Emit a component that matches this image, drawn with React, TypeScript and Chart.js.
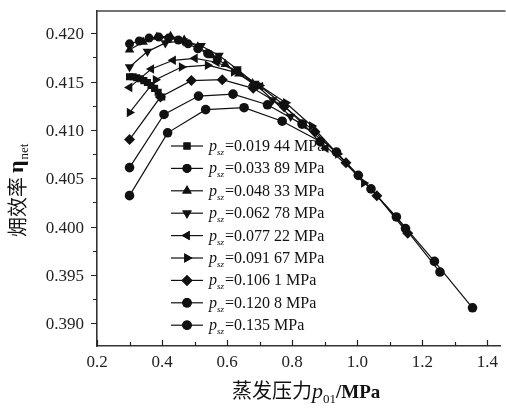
import React, { useEffect, useRef } from 'react';
import { Chart, registerables } from 'chart.js';
import { drawPoint } from 'chart.js/helpers';

Chart.register(...registerables);

// ---- data ----
const seriesLabels = ['0.019 44', '0.033 89', '0.048 33', '0.062 78', '0.077 22', '0.091 67', '0.106 1', '0.120 8', '0.135'];

const xS1 = [0.300, 0.311, 0.322, 0.333, 0.344, 0.355, 0.366, 0.377, 0.388, 0.399];
const yS1 = [0.4155, 0.4155, 0.4154, 0.4153, 0.4151, 0.4149, 0.4146, 0.4143, 0.4139, 0.4134];

const xS2 = [0.300, 0.330, 0.360, 0.390, 0.420, 0.450, 0.480, 0.510, 0.540, 0.570];
const yS2 = [0.4189, 0.4192, 0.4195, 0.4196, 0.4195, 0.4193, 0.4189, 0.4184, 0.4179, 0.4173];

const xS3 = [0.300, 0.342, 0.384, 0.426, 0.468, 0.510, 0.552, 0.594, 0.636, 0.678];
const yS3 = [0.4183, 0.4191, 0.4196, 0.4197, 0.4193, 0.4186, 0.4177, 0.4168, 0.4158, 0.4148];

const xS4 = [0.300, 0.355, 0.410, 0.465, 0.520, 0.575, 0.630, 0.685, 0.740, 0.795];
const yS4 = [0.4165, 0.4181, 0.4190, 0.4192, 0.4187, 0.4177, 0.4163, 0.4148, 0.4131, 0.4114];

const xS5 = [0.300, 0.367, 0.434, 0.501, 0.568, 0.635, 0.702, 0.769, 0.836, 0.903];
const yS5 = [0.4144, 0.4163, 0.4172, 0.4174, 0.4170, 0.4160, 0.4145, 0.4127, 0.4105, 0.4081];

const xS6 = [0.300, 0.380, 0.460, 0.540, 0.620, 0.700, 0.780, 0.860, 0.940, 1.020];
const yS6 = [0.4118, 0.4152, 0.4165, 0.4167, 0.4160, 0.4146, 0.4128, 0.4104, 0.4075, 0.4045];

const xS7 = [0.300, 0.395, 0.490, 0.585, 0.680, 0.775, 0.870, 0.965, 1.060, 1.155];
const yS7 = [0.4090, 0.4134, 0.4151, 0.4152, 0.4143, 0.4124, 0.4098, 0.4066, 0.4032, 0.3993];

const xS8 = [0.300, 0.406, 0.512, 0.618, 0.724, 0.830, 0.936, 1.042, 1.148, 1.254];
const yS8 = [0.4061, 0.4116, 0.4135, 0.4137, 0.4126, 0.4106, 0.4077, 0.4039, 0.3998, 0.3953];

const xS9 = [0.300, 0.417, 0.534, 0.652, 0.769, 0.886, 1.003, 1.120, 1.237, 1.354];
const yS9 = [0.4032, 0.4097, 0.4121, 0.4123, 0.4109, 0.4088, 0.4053, 0.4010, 0.3964, 0.3916];

const xTickValues = [0.2, 0.4, 0.6, 0.8, 1.0, 1.2, 1.4];
const yTickValues = [0.390, 0.395, 0.400, 0.405, 0.410, 0.415, 0.420];
const xTickLabels = ['0.2', '0.4', '0.6', '0.8', '1.0', '1.2', '1.4'];
const yTickLabels = ['0.390', '0.395', '0.400', '0.405', '0.410', '0.415', '0.420'];
const xMinorValues = [0.3, 0.5, 0.7, 0.9, 1.1, 1.3];
const yMinorValues = [0.3925, 0.3975, 0.4025, 0.4075, 0.4125, 0.4175];

const xTitleCjk = '蒸发压力';
const yTitleCjk = '㶲效率';

// ---- styles ----
const INK = '#111';
const SERIF = "'Liberation Serif', 'Times New Roman', serif";
const CJK = "'Noto Sans CJK SC', sans-serif";

const markerStyles: { style: any; radius: number; rotation: number }[] = [
  { style: 'rect', radius: 5, rotation: 0 },
  { style: 'circle', radius: 4.5, rotation: 0 },
  { style: 'triangle', radius: 5.5, rotation: 0 },
  { style: 'triangle', radius: 5.5, rotation: 180 },
  { style: 'triangle', radius: 5.5, rotation: 270 },
  { style: 'triangle', radius: 5.5, rotation: 90 },
  { style: 'rectRot', radius: 5.5, rotation: 0 },
  { style: 'circle', radius: 4.8, rotation: 0 },
  { style: 'circle', radius: 4.8, rotation: 0 },
];

const allX = [xS1, xS2, xS3, xS4, xS5, xS6, xS7, xS8, xS9];
const allY = [yS1, yS2, yS3, yS4, yS5, yS6, yS7, yS8, yS9];

const overlayPlugin = {
  id: 'overlay',
  afterDraw(chart: any) {
    const ctx: CanvasRenderingContext2D = chart.ctx;
    const { left, right, top, bottom } = chart.chartArea;
    const xs = chart.scales.x;
    const ys = chart.scales.y;
    ctx.save();
    // top frame line
    ctx.strokeStyle = '#444';
    ctx.lineWidth = 1.5;
    ctx.beginPath();
    ctx.moveTo(left, top);
    ctx.lineTo(right + 5, top);
    ctx.stroke();
    // ticks
    ctx.strokeStyle = '#222';
    ctx.lineWidth = 1.2;
    ctx.beginPath();
    yTickValues.forEach((v) => {
      const p = Math.round(ys.getPixelForValue(v)) + 0.5;
      ctx.moveTo(left - 6, p);
      ctx.lineTo(left, p);
    });
    yMinorValues.forEach((v) => {
      const p = Math.round(ys.getPixelForValue(v)) + 0.5;
      ctx.moveTo(left - 4, p);
      ctx.lineTo(left, p);
    });
    xTickValues.forEach((v) => {
      const p = Math.round(xs.getPixelForValue(v)) + 0.5;
      ctx.moveTo(p, bottom);
      ctx.lineTo(p, bottom - 6);
    });
    xMinorValues.forEach((v) => {
      const p = Math.round(xs.getPixelForValue(v)) + 0.5;
      ctx.moveTo(p, bottom);
      ctx.lineTo(p, bottom - 4);
    });
    ctx.stroke();

    // tick labels
    ctx.fillStyle = '#222';
    ctx.font = `17px ${SERIF}`;
    ctx.textBaseline = 'alphabetic';
    ctx.textAlign = 'right';
    yTickValues.forEach((v, i) => {
      ctx.fillText(yTickLabels[i], left - 13, ys.getPixelForValue(v) + 6);
    });
    ctx.textAlign = 'center';
    xTickValues.forEach((v, i) => {
      ctx.fillText(xTickLabels[i], xs.getPixelForValue(v), bottom + 21);
    });

    // legend
    ctx.fillStyle = INK;
    ctx.strokeStyle = INK;
    seriesLabels.forEach((lab, i) => {
      const ry = 146 + i * 22.4;
      ctx.lineWidth = 1.2;
      ctx.beginPath();
      ctx.moveTo(171, ry);
      ctx.lineTo(203, ry);
      ctx.stroke();
      const m = markerStyles[i];
      drawPoint(ctx, { pointStyle: m.style, radius: m.radius, rotation: m.rotation, borderWidth: 0 } as any, 187, ry);
      ctx.fill();
      ctx.textBaseline = 'alphabetic';
      ctx.textAlign = 'left';
      let x = 209;
      const base = ry + 5;
      ctx.font = `italic 16px ${SERIF}`;
      ctx.fillText('p', x, base);
      x += ctx.measureText('p').width;
      ctx.font = `italic 9px ${SERIF}`;
      ctx.fillText('sz', x, base + 4);
      x += ctx.measureText('sz').width + 1;
      ctx.font = `16px ${SERIF}`;
      ctx.fillText('=' + lab + ' MPa', x, base);
    });

    // x title
    {
      let x = 232;
      const base = 398;
      ctx.textAlign = 'left';
      ctx.textBaseline = 'alphabetic';
      ctx.font = `20px ${CJK}`;
      ctx.fillText(xTitleCjk, x, base);
      x += ctx.measureText(xTitleCjk).width;
      ctx.font = `italic 22px ${SERIF}`;
      ctx.fillText('p', x, base);
      x += ctx.measureText('p').width;
      ctx.font = `13px ${SERIF}`;
      ctx.fillText('01', x, base + 5);
      x += ctx.measureText('01').width;
      ctx.font = `bold 19px ${SERIF}`;
      ctx.fillText('/MPa', x, base);
    }
    // y title (rotated)
    {
      ctx.translate(25, 237);
      ctx.rotate(-Math.PI / 2);
      let x = 0;
      ctx.font = `20px ${CJK}`;
      ctx.fillText(yTitleCjk, x, 0);
      x += ctx.measureText(yTitleCjk).width + 4;
      ctx.font = `bold 22px ${SERIF}`;
      ctx.fillText('η', x, -2);
      x += ctx.measureText('η').width + 1;
      ctx.font = `13px ${SERIF}`;
      ctx.fillText('net', x, 3);
    }
    ctx.restore();
  },
};

export default function App() {
  const ref = useRef<HTMLCanvasElement | null>(null);
  useEffect(() => {
    document.body.style.margin = '0';
    const canvas = ref.current!;
    const datasets = allX.map((xv, i) => ({
      label: 'psz=' + seriesLabels[i] + ' MPa',
      data: xv.map((v, j) => ({ x: v, y: allY[i][j] })),
      showLine: true,
      borderColor: INK,
      backgroundColor: INK,
      borderWidth: 1.2,
      pointStyle: markerStyles[i].style,
      pointRadius: markerStyles[i].radius,
      pointRotation: markerStyles[i].rotation,
      pointBorderWidth: 0,
      pointBackgroundColor: INK,
    }));
    const chart = new Chart(canvas, {
      type: 'scatter',
      data: { datasets },
      options: {
        animation: false,
        responsive: false,
        layout: { padding: { top: 11, right: 3, left: 0, bottom: 0 } },
        plugins: { legend: { display: false }, tooltip: { enabled: false } },
        scales: {
          x: {
            type: 'linear',
            min: 0.2,
            max: 1.44,
            afterFit: (s: any) => { s.height = 66; },
            grid: { display: false, drawTicks: false },
            border: { display: true, color: '#333', width: 1.6 },
            ticks: { display: false },
          },
          y: {
            type: 'linear',
            min: 0.38765,
            max: 0.4223,
            afterFit: (s: any) => { s.width = 97; },
            grid: { display: false, drawTicks: false },
            border: { display: true, color: '#333', width: 1.6 },
            ticks: { display: false },
          },
        },
      },
      plugins: [overlayPlugin],
    });
    return () => chart.destroy();
  }, []);
  return (
    <div style={{ position: 'relative', width: 506, height: 412, background: '#fff' }}>
      <canvas ref={ref} width={506} height={412} style={{ display: 'block' }} />
    </div>
  );
}
